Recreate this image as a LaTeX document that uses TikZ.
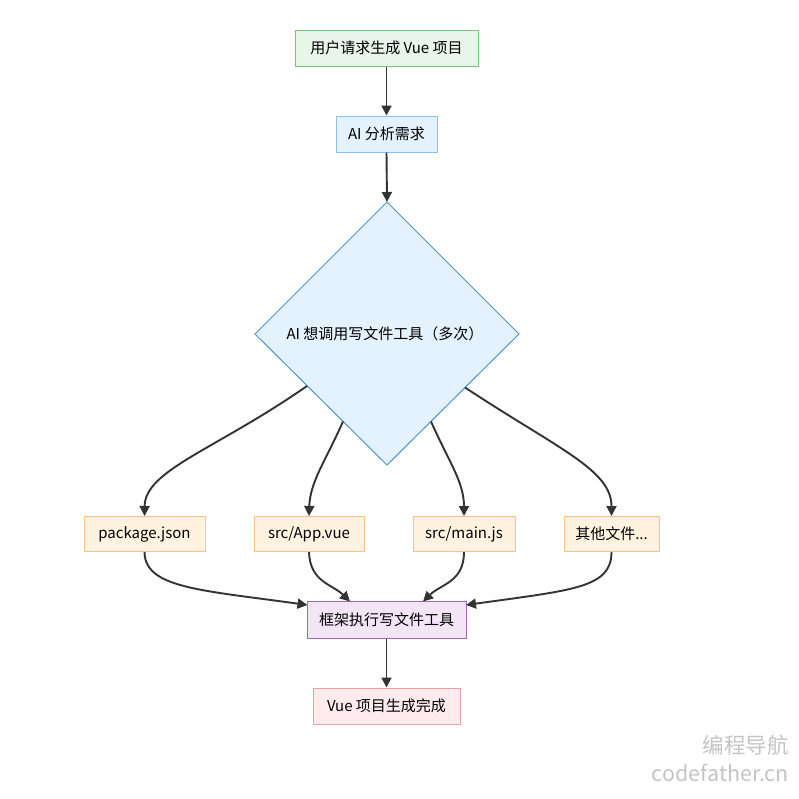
\documentclass[tikz,border=0pt]{standalone}
\usepackage{fontspec}
\setmainfont{Noto Sans CJK SC}
\usetikzlibrary{arrows.meta}
\definecolor{gfill}{HTML}{E8F5E9}
\definecolor{gline}{HTML}{7FBF7F}
\definecolor{bfill}{HTML}{E3F2FD}
\definecolor{bline}{HTML}{90C0E6}
\definecolor{dline}{HTML}{4F93CF}
\definecolor{ofill}{HTML}{FFF3E0}
\definecolor{oline}{HTML}{F5C48C}
\definecolor{pfill}{HTML}{F3E5F5}
\definecolor{pline}{HTML}{9C6BB0}
\definecolor{rfill}{HTML}{FFEBEE}
\definecolor{rline}{HTML}{E5A3A8}
\definecolor{arrowc}{HTML}{333333}
\definecolor{wm}{HTML}{C4C4C4}
\begin{document}
\begin{tikzpicture}[x=1pt,y=-1pt,
  font=\fontsize{15}{18}\selectfont,
  box/.style={draw, line width=1pt, inner sep=0pt, align=center, text=black},
  arr/.style={draw=arrowc, line width=1.9pt, -{Triangle[length=10pt,width=10pt]}}]
\useasboundingbox[fill=white] (0,0) rectangle (799,798);

\node[box, fill=gfill, draw=gline, minimum width=183pt, minimum height=36pt] (req) at (386.5,48) {用户请求生成 Vue 项目};
\node[box, fill=bfill, draw=bline, minimum width=101pt, minimum height=36pt] (ai) at (386.5,134) {AI 分析需求};

\coordinate (dT) at (387,202);
\coordinate (dR) at (519,334);
\coordinate (dB) at (387,465);
\coordinate (dL) at (255,334);
\draw[fill=bfill, draw=dline, line width=1pt] (dT) -- (dR) -- (dB) -- (dL) -- cycle;
\node (dec) at (385,334) {AI 想调用写文件工具（多次）};

\node[box, fill=ofill, draw=oline, minimum width=121pt, minimum height=35pt] (pkg) at (144.5,534) {package.json};
\node[box, fill=ofill, draw=oline, minimum width=110pt, minimum height=35pt] (app) at (309,534) {src/App.vue};
\node[box, fill=ofill, draw=oline, minimum width=102pt, minimum height=35pt] (mainjs) at (464,534) {src/main.js};
\node[box, fill=ofill, draw=oline, minimum width=95pt, minimum height=35pt] (other) at (611.5,534) {其他文件...};

\node[box, fill=pfill, draw=pline, minimum width=159pt, minimum height=37pt] (fw) at (386.5,620) {框架执行写文件工具};
\node[box, fill=rfill, draw=rline, minimum width=147pt, minimum height=36pt] (done) at (386.5,706) {Vue 项目生成完成};

\coordinate (s1) at (307,386);
\coordinate (s2) at (343,421.5);
\coordinate (s3) at (431,421.5);
\coordinate (s4) at (465,387.5);
\coordinate (e1) at (307.5,605);
\coordinate (e2) at (350,601.5);
\coordinate (e3) at (423,601.5);
\coordinate (e4) at (466,605);

\draw[arr] (req.south) -- (ai.north);
\draw[arr] (ai.south) -- (dT);

\draw[arr] (s1) .. controls (215,450) and (145,470) .. (pkg.north);
\draw[arr] (s2) .. controls (325,462) and (310,482) .. (app.north);
\draw[arr] (s3) .. controls (449,462) and (464,482) .. (mainjs.north);
\draw[arr] (s4) .. controls (560,450) and (611.5,470) .. (other.north);

\draw[arr] (pkg.south) .. controls (145,588) and (200,590) .. (e1);
\draw[arr] (app.south) .. controls (310,582) and (332,584) .. (e2);
\draw[arr] (mainjs.south) .. controls (464,582) and (441,584) .. (e3);
\draw[arr] (other.south) .. controls (611.5,588) and (573,590) .. (e4);

\draw[arr] (fw.south) -- (done.north);

\node[anchor=east, text=wm, font=\fontsize{21.5}{24}\selectfont, inner sep=0pt] (wm1) at (789,745) {编程导航};
\node[anchor=east, text=wm, font=\fontsize{21.5}{24}\selectfont, inner sep=0pt] (wm2) at (789,773) {codefather.cn};
\end{tikzpicture}
\end{document}
